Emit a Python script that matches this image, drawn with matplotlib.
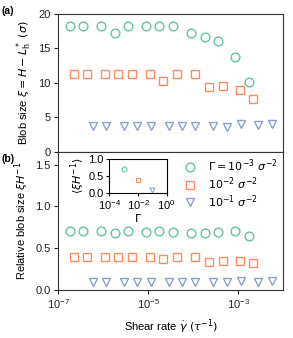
import matplotlib
matplotlib.use("Agg")
import matplotlib.pyplot as plt
import numpy as np

plt.rcParams['font.family'] = ['Liberation Sans', 'DejaVu Sans']
plt.rcParams['mathtext.fontset'] = 'dejavusans'
plt.rcParams['font.size'] = 8

colors = ['#66c2a5', '#fc8d62', '#8da0cb']
markers = ['o', 's', 'v']
labels = [r'$\Gamma = 10^{-3}\ \sigma^{-2}$', r'$10^{-2}\ \sigma^{-2}$', r'$10^{-1}\ \sigma^{-2}$']

# log10 shear rates
logx_g3 = [-6.73, -6.44, -6.04, -5.74, -5.44, -5.04, -4.75, -4.45, -4.04, -3.74, -3.44, -3.06, -2.76]
logx_g2 = [-6.65, -6.36, -5.95, -5.66, -5.36, -4.95, -4.66, -4.35, -3.95, -3.64, -3.34, -2.96, -2.66]
logx_g1 = [-6.23, -5.93, -5.54, -5.24, -4.94, -4.53, -4.24, -3.95, -3.55, -3.24, -2.94, -2.55, -2.25]

blob_g3 = [18.3, 18.3, 18.3, 17.3, 18.3, 18.3, 18.3, 18.3, 17.3, 16.6, 16.1, 13.8, 10.1]
blob_g2 = [11.3, 11.3, 11.3, 11.3, 11.3, 11.3, 10.3, 11.3, 11.3, 9.4, 9.6, 9.0, 7.7]
blob_g1 = [3.8, 3.8, 3.8, 3.8, 3.8, 3.8, 3.8, 3.8, 3.8, 3.6, 4.1, 3.85, 4.0]

rel_g3 = [0.70, 0.70, 0.70, 0.68, 0.70, 0.69, 0.70, 0.69, 0.68, 0.68, 0.69, 0.71, 0.65]
rel_g2 = [0.40, 0.40, 0.40, 0.40, 0.40, 0.40, 0.37, 0.40, 0.40, 0.34, 0.345, 0.35, 0.325]
rel_g1 = [0.10, 0.10, 0.10, 0.10, 0.10, 0.10, 0.10, 0.10, 0.10, 0.09, 0.11, 0.10, 0.11]

gamma_vals = [1e-3, 1e-2, 1e-1]
mean_rel = [0.70, 0.38, 0.08]

xs = [logx_g3, logx_g2, logx_g1]
blobs = [blob_g3, blob_g2, blob_g1]
rels = [rel_g3, rel_g2, rel_g1]

fig = plt.figure(figsize=(2.93, 3.38), dpi=100)
axa = fig.add_axes([0.198, 0.5503, 0.768, 0.4083])
axb = fig.add_axes([0.198, 0.142, 0.768, 0.4083], sharex=axa)

for i in range(3):
    x = 10 ** np.array(xs[i])
    axa.plot(x, blobs[i], linestyle='none', marker=markers[i], mfc='none',
             mec=colors[i], ms=6.3, mew=1.0)
    axb.plot(x, rels[i], linestyle='none', marker=markers[i], mfc='none',
             mec=colors[i], ms=6.3, mew=1.0, label=labels[i])

axa.set_xscale('log')
axa.set_xlim(1e-7, 1e-2)
axa.set_ylim(0, 20)
axa.set_yticks([0, 5, 10, 15, 20])
axa.tick_params(labelbottom=False)
axa.set_ylabel(r'Blob size $\xi = H - L_\mathrm{h}^*\ (\sigma)$', labelpad=3)

axb.set_ylim(0, 1.65)
axb.set_yticks([0, 0.5, 1.0, 1.5])
axb.set_yticklabels(['0.0', '0.5', '1.0', '1.5'])
axb.set_xticks([1e-7, 1e-5, 1e-3])
axb.xaxis.set_minor_locator(matplotlib.ticker.NullLocator())
axb.set_xlabel(r'Shear rate $\dot{\gamma}\ (\tau^{-1})$', labelpad=4)
axb.set_ylabel(r'Relative blob size $\xi H^{-1}$', labelpad=3)
axb.legend(loc='upper right', frameon=False, handletextpad=0.6, borderaxespad=0.1,
           labelspacing=0.1, fontsize=8, bbox_to_anchor=(1.0, 1.0))

for ax in (axa, axb):
    for s in ax.spines.values():
        s.set_color('#333333')
    ax.tick_params(length=3, width=0.8, colors='#222222', pad=2.5)

fig.text(0.005, 0.958, '(a)', fontweight='bold', fontsize=7.5)
fig.text(0.005, 0.522, '(b)', fontweight='bold', fontsize=7.5)

axi = fig.add_axes([0.373, 0.430, 0.196, 0.0997])
for i in range(3):
    axi.plot(gamma_vals[i], mean_rel[i], linestyle='none', marker=markers[i], mfc='none',
             mec=colors[i], ms=3.5, mew=0.8)
axi.set_xscale('log')
axi.set_xlim(1e-4, 1e0)
axi.set_ylim(0, 1.0)
axi.set_xticks([1e-4, 1e-2, 1e0])
axi.xaxis.set_minor_locator(matplotlib.ticker.NullLocator())
axi.set_yticks([0, 0.5, 1.0])
axi.set_yticklabels(['0.0', '0.5', '1.0'])
axi.set_xlabel(r'$\Gamma$', labelpad=0)
axi.set_ylabel(r'$\langle \xi H^{-1} \rangle$', labelpad=1)
axi.tick_params(length=2.5, width=0.8, pad=1.5)

fig.savefig('out.png', dpi=100)
